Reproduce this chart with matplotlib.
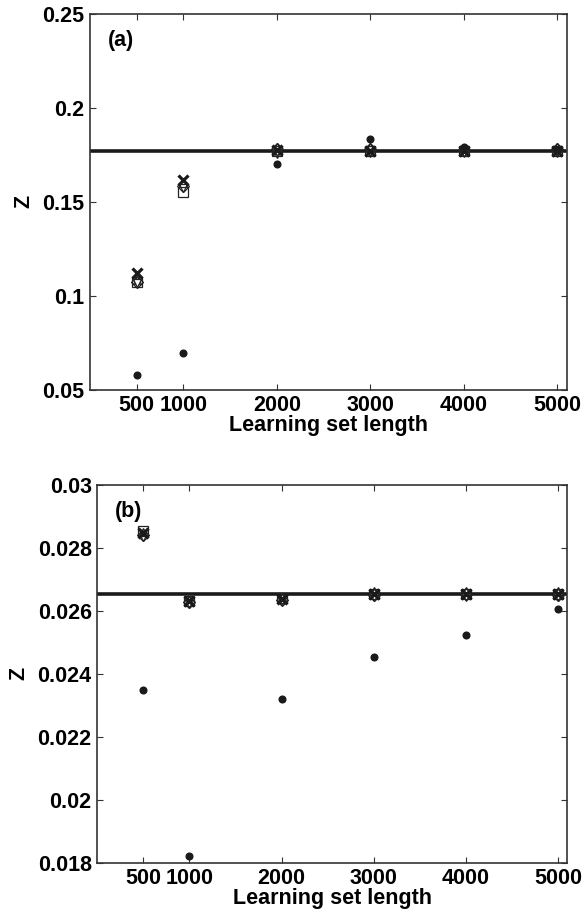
import matplotlib
matplotlib.use('Agg')
import matplotlib.pyplot as plt

plt.rcParams['font.family'] = ['Liberation Sans', 'DejaVu Sans']
plt.rcParams['font.weight'] = 'bold'
plt.rcParams['font.size'] = 15.5

# learning set lengths
lengths = [500, 1000, 2000, 3000, 4000, 5000]
xtick_labels = ['500', '1000', '2000', '3000', '4000', '5000']

# panel (a)
ref_a = 0.177
dots_a = [0.058, 0.0694, 0.1699, 0.1835, 0.1792, 0.1775]
cross_a = [0.1118, 0.1617, 0.1775, 0.1772, 0.1770, 0.1770]
square_a = [0.1075, 0.1553, 0.1770, 0.1770, 0.1770, 0.1770]
diamond_a = [0.1072, 0.1585, 0.1780, 0.1778, 0.1775, 0.1778]
tri_up_a = [0.1085, 0.1605, 0.1790, 0.1790, 0.1785, 0.1790]
tri_down_a = [0.1065, 0.1575, 0.1755, 0.1758, 0.1758, 0.1758]
yticks_a = [0.05, 0.1, 0.15, 0.2, 0.25]

# panel (b)
ref_b = 0.02655
dots_b = [0.0235, 0.01821, 0.0232, 0.02454, 0.02524, 0.02605]
cross_b = [0.02848, 0.02630, 0.02638, 0.02653, 0.02653, 0.02653]
square_b = [0.02855, 0.02632, 0.02640, 0.02655, 0.02655, 0.02655]
diamond_b = [0.02840, 0.02628, 0.02635, 0.02650, 0.02652, 0.02650]
tri_up_b = [0.02852, 0.02636, 0.02645, 0.02662, 0.02662, 0.02662]
tri_down_b = [0.02835, 0.02622, 0.02630, 0.02645, 0.02645, 0.02645]
yticks_b = [0.018, 0.02, 0.022, 0.024, 0.026, 0.028, 0.03]

fig = plt.figure(figsize=(5.85, 9.19), dpi=100)
ax_a = fig.add_axes([0.1538, 0.5760, 0.8149, 0.4091])
ax_b = fig.add_axes([0.1662, 0.0613, 0.8035, 0.4110])


def draw_panel(ax, ref, dots, cross, square, diamond, tri_up, tri_down,
               yticks, ylim, tag):
    ax.axhline(ref, color='#1a1a1a', lw=2.6, zorder=1)
    ax.plot(lengths, tri_up, ls='none', marker='^', ms=6, mfc='white',
            mec='#222222', mew=0.9, zorder=2)
    ax.plot(lengths, tri_down, ls='none', marker='v', ms=6, mfc='white',
            mec='#222222', mew=0.9, zorder=2)
    ax.plot(lengths, square, ls='none', marker='s', ms=7, mfc='none',
            mec='#222222', mew=0.9, zorder=3)
    ax.plot(lengths, diamond, ls='none', marker='D', ms=6, mfc='none',
            mec='#222222', mew=0.9, zorder=3)
    ax.plot(lengths, cross, ls='none', marker='x', ms=7.5, mec='#1a1a1a',
            mew=2.3, zorder=4)
    ax.plot(lengths, dots, ls='none', marker='o', ms=4.8, mfc='#1a1a1a',
            mec='#1a1a1a', zorder=4)

    ax.set_xlim(0, 5100)
    ax.set_ylim(*ylim)
    ax.set_xticks(lengths)
    ax.set_xticklabels(xtick_labels)
    ax.set_yticks(yticks)
    ax.set_yticklabels(['%g' % v for v in yticks])
    ax.tick_params(direction='in', top=True, right=True, length=4,
                   width=0.8, color='#333333', pad=4)
    for s in ax.spines.values():
        s.set_linewidth(1.2)
        s.set_color('#333333')
    ax.set_xlabel('Learning set length', fontweight='bold', labelpad=-1)
    ax.set_ylabel('Z', fontweight='bold', labelpad=6)
    ax.text(0.038, 0.93, tag, transform=ax.transAxes, fontsize=15.5,
            fontweight='bold', va='center', ha='left')


draw_panel(ax_a, ref_a, dots_a, cross_a, square_a, diamond_a, tri_up_a,
           tri_down_a, yticks_a, (0.05, 0.25), '(a)')
draw_panel(ax_b, ref_b, dots_b, cross_b, square_b, diamond_b, tri_up_b,
           tri_down_b, yticks_b, (0.018, 0.03), '(b)')

fig.savefig('out.png', dpi=100)
